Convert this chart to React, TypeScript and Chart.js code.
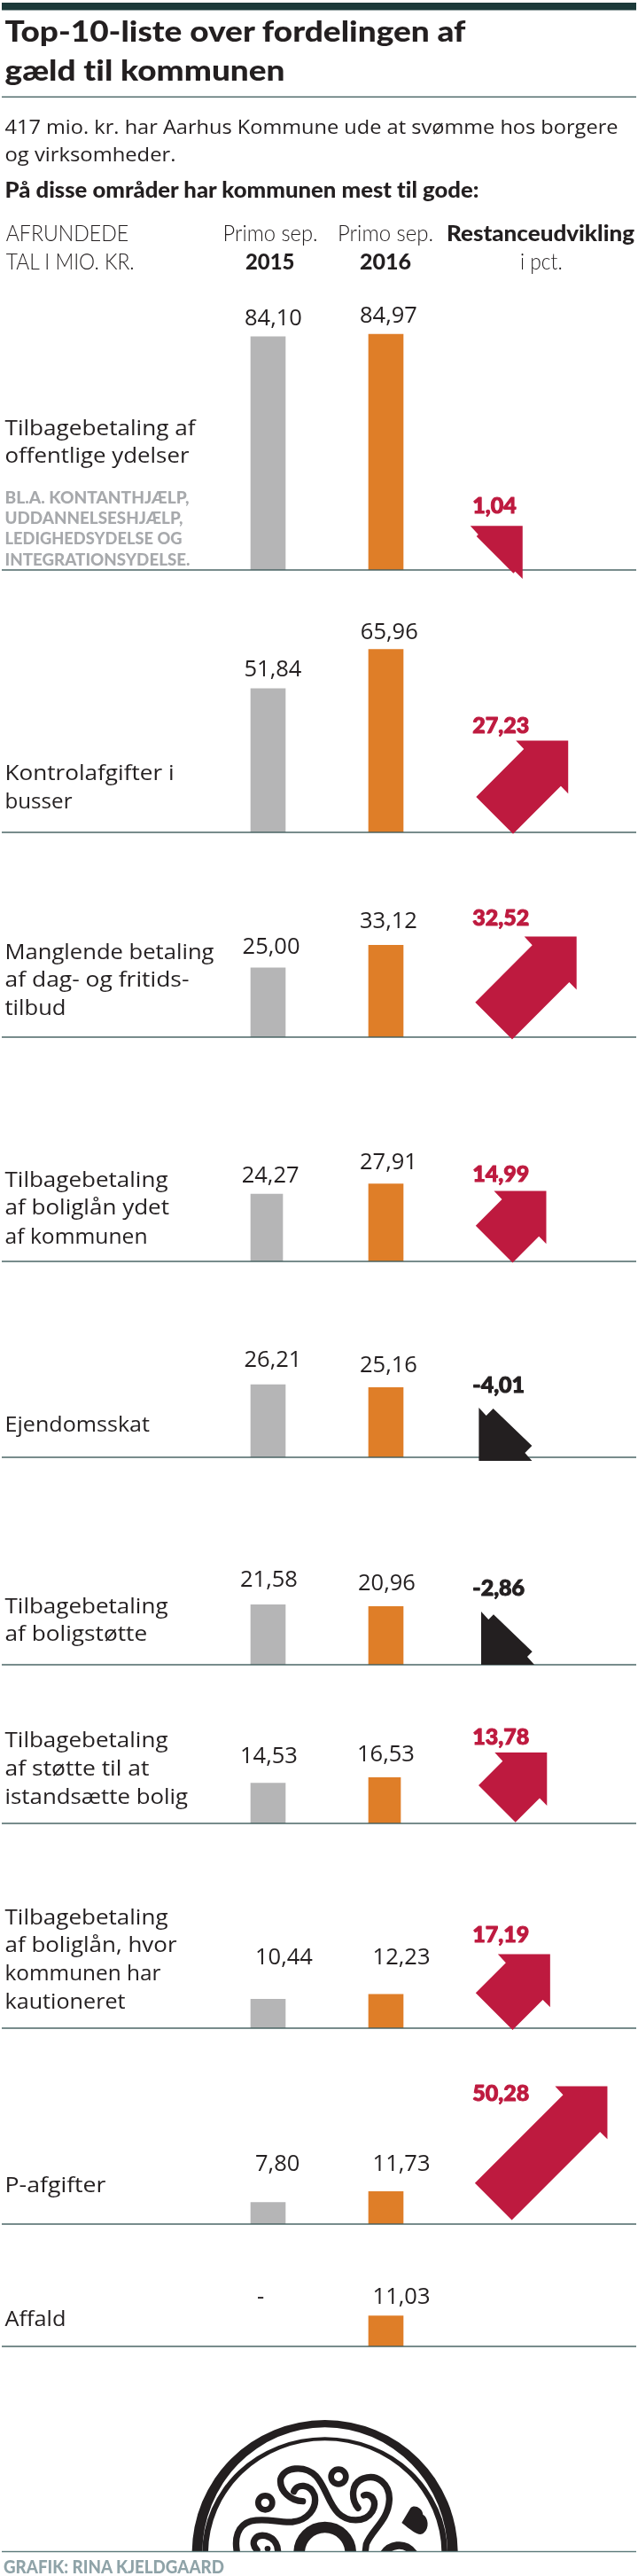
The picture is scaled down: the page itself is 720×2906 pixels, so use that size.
import React, { useEffect, useRef } from "react";
import { Chart, registerables } from "chart.js";

Chart.register(...registerables);

// ---------- data ----------
const categories = ["Primo sep. 2015", "Primo sep. 2016", "Restanceudvikling i pct."];
const areas = [
  "Tilbagebetaling af offentlige ydelser",
  "Kontrolafgifter i busser",
  "Manglende betaling af dag- og fritidstilbud",
  "Tilbagebetaling af boliglån ydet af kommunen",
  "Ejendomsskat",
  "Tilbagebetaling af boligstøtte",
  "Tilbagebetaling af støtte til at istandsætte bolig",
  "Tilbagebetaling af boliglån, hvor kommunen har kautioneret",
  "P-afgifter",
  "Affald",
];
const values2015: (number | null)[] = [84.1, 51.84, 25.0, 24.27, 26.21, 21.58, 14.53, 10.44, 7.8, null];
const values2016: number[] = [84.97, 65.96, 33.12, 27.91, 25.16, 20.96, 16.53, 12.23, 11.73, 11.03];
const changePct: (number | null)[] = [1.04, 27.23, 32.52, 14.99, -4.01, -2.86, 13.78, 17.19, 50.28, null];

// ---------- layout ----------
const W = 720;
const H = 2906;
const PX_PER_MIO = 3.13;
const PX_PER_PCT = 1.98;
const BELOW = 24;
const rowBase = [643, 939.3, 1170, 1423, 1644, 1878, 2057, 2288, 2509, 2647];
const rowTop = [320, 643, 939, 1170, 1423, 1644, 1878, 2057, 2288, 2509];
const barW15 = [39, 39, 39, 36, 39, 39, 39, 39, 39, 39];
const barW16 = [39, 39, 39, 39, 39, 39, 36, 39, 39, 39];
const label15: [number, number][] = [[276, 366.7], [275.5, 763], [273.6, 1076], [272.7, 1334], [275.5, 1542], [271, 1790], [271, 1989], [288, 2216], [288, 2449], [290, 2599]];
const label16: [number, number][] = [[406, 364], [406.8, 721], [406, 1047], [406, 1319], [406, 1548], [404, 1794], [403, 1987], [420.6, 2216], [420.6, 2449], [420.6, 2599]];
const labelPct: number[] = [579, 827.3, 1044, 1332.6, 1570.5, 1800, 1968, 2190.6, 2370, 0];
const arrowAnchor: ([number, number] | null)[] = [[579.4, 646.7], [579, 940.7], [578, 1172.4], [578.5, 1424.5], [540.4, 1648], [543, 1878], [581.7, 2055.8], [578.5, 2290], [577.6, 2504.5], null];

const RED = "#be1a3f";
const ORANGE = "#df7e28";
const GRAY = "#b5b5b6";
const INK = "#231f20";
const RULE = "#3f5c5c";

const fmt = (v: number) => v.toFixed(2).replace(".", ",");

// ---------- static text lines: text, x, baseline, size, weight, family, colour, width ----------
type L = [string, number, number, number, number, string, string, number];
const OS = '"Open Sans"';
const LA = "Lato";
const lines: L[] = [
  ["Top-10-liste over fordelingen af", 5.5, 47.3, 33, 900, LA, INK, 520],
  ["gæld til kommunen", 5.5, 90.7, 33, 900, LA, INK, 316],
  ["417 mio. kr. har Aarhus Kommune ude at svømme hos borgere", 5.5, 151, 22.5, 400, OS, INK, 692],
  ["og virksomheder.", 5.5, 182, 22.5, 400, OS, INK, 193],
  ["På disse områder har kommunen mest til gode:", 5.5, 223, 24, 900, LA, INK, 535],
  ["AFRUNDEDE", 6.7, 272.3, 25.5, 300, LA, INK, 138.5],
  ["TAL I MIO. KR.", 6.7, 304, 25.5, 300, LA, INK, 145],
  ["Primo sep.", 251.6, 272.3, 25.5, 300, LA, INK, 107],
  ["Primo sep.", 381, 272.3, 25.5, 300, LA, INK, 108],
  ["2015", 277, 304, 25.5, 900, LA, INK, 55.5],
  ["2016", 406, 304, 25.5, 900, LA, INK, 58],
  ["Restanceudvikling", 504, 272.3, 25.5, 900, LA, INK, 212],
  ["i pct.", 587, 304, 25.5, 300, LA, INK, 47.7],
  ["Tilbagebetaling af", 5.5, 491, 24, 400, OS, INK, 215],
  ["offentlige ydelser", 5.5, 522, 24, 400, OS, INK, 208],
  ["BL.A. KONTANTHJÆLP,", 5.5, 568, 18.5, 900, LA, "#a7a9ac", 208],
  ["UDDANNELSESHJÆLP,", 5.5, 590.6, 18.5, 900, LA, "#a7a9ac", 201],
  ["LEDIGHEDSYDELSE OG", 5.5, 614, 18.5, 900, LA, "#a7a9ac", 200],
  ["INTEGRATIONSYDELSE.", 5.5, 637.5, 18.5, 900, LA, "#a7a9ac", 209],
  ["Kontrolafgifter i", 5.5, 879.6, 24, 400, OS, INK, 191],
  ["busser", 5.5, 911.7, 24, 400, OS, INK, 76],
  ["Manglende betaling", 5.5, 1081.6, 24, 400, OS, INK, 236],
  ["af dag- og fritids-", 5.5, 1112.8, 24, 400, OS, INK, 208],
  ["tilbud", 5.5, 1145, 24, 400, OS, INK, 69],
  ["Tilbagebetaling", 5.5, 1338.8, 24, 400, OS, INK, 184],
  ["af boliglån ydet", 5.5, 1370.4, 24, 400, OS, INK, 185.5],
  ["af kommunen", 5.5, 1402.6, 24, 400, OS, INK, 161],
  ["Ejendomsskat", 5.5, 1615, 24, 400, OS, INK, 163.5],
  ["Tilbagebetaling", 5.5, 1819.6, 24, 400, OS, INK, 184],
  ["af boligstøtte", 5.5, 1851, 24, 400, OS, INK, 160.7],
  ["Tilbagebetaling", 5.5, 1971, 24, 400, OS, INK, 184],
  ["af støtte til at", 5.5, 2003, 24, 400, OS, INK, 163],
  ["istandsætte bolig", 5.5, 2035, 24, 400, OS, INK, 206.6],
  ["Tilbagebetaling", 5.5, 2170.5, 24, 400, OS, INK, 184],
  ["af boliglån, hvor", 5.5, 2202, 24, 400, OS, INK, 194],
  ["kommunen har", 5.5, 2234, 24, 400, OS, INK, 176],
  ["kautioneret", 5.5, 2266, 24, 400, OS, INK, 136],
  ["P-afgifter", 5.5, 2473, 24, 400, OS, INK, 114],
  ["Affald", 5.5, 2624, 24, 400, OS, INK, 69],
  ["GRAFIK: RINA KJELDGAARD", 4, 2902.7, 21, 900, LA, "#8fa3a8", 249],
];

// ---------- row chart ----------
function RowChart({ index }: { index: number }) {
  const ref = useRef<HTMLCanvasElement | null>(null);
  const top = rowTop[index];
  const height = Math.round(rowBase[index] + BELOW - top);
  useEffect(() => {
    const plotH = height - BELOW;
    const rowPlugin = {
      id: "rowMarks",
      afterDatasetsUpdate(chart: any) {
        [barW15[index], barW16[index]].forEach((w, d) => {
          const el = chart.getDatasetMeta(d).data[d];
          if (el) el.x -= (39 - w) / 2;
        });
      },
      afterDatasetsDraw(chart: any) {
        const { ctx } = chart;
        const y0 = chart.scales.y.getPixelForValue(0);
        ctx.save();
        ctx.fillStyle = RULE;
        ctx.fillRect(2, y0 - 0.7, 716, 1.4);
        const pct = chart.data.datasets[2].data[2];
        const anchor = arrowAnchor[index];
        if (pct !== null && anchor) {
          const sc = chart.scales.yPct;
          const s = sc.getPixelForValue(0) - sc.getPixelForValue(Math.abs(pct));
          const ax = anchor[0];
          const ay = anchor[1] - top;
          let p: [number, number][];
          if (pct > 0) {
            const lx = ax - 41.7, ly = ay - 41.7;
            const n1: [number, number] = [lx + s, ly - s];
            const n2: [number, number] = [ax + s, ay - s];
            const h1: [number, number] = [n1[0] - 9, n1[1] - 9.7];
            const h2: [number, number] = [n2[0] + 8.3, n2[1] + 8.4];
            p = [h1, [h2[0], h1[1]], h2, n2, [ax, ay], [lx, ly], n1];
          } else {
            const n1: [number, number] = [ax + 8.3, ay - 51];
            const n2: [number, number] = [ax + 52, ay - 9];
            p = [[ax, ay - 60], n1, [n1[0] + s, n1[1] - s], [n2[0] + s, n2[1] - s], n2, [ax + 60, ay], [ax, ay]];
          }
          const col = pct > 0 ? RED : INK;
          ctx.fillStyle = col;
          ctx.beginPath();
          p.forEach((q, i) => (i ? ctx.lineTo(q[0], q[1]) : ctx.moveTo(q[0], q[1])));
          ctx.closePath();
          ctx.fill();
          ctx.font = "900 25px Lato";
          ctx.textBaseline = "alphabetic";
          ctx.textAlign = "left";
          ctx.strokeStyle = col;
          ctx.lineWidth = 1;
          ctx.lineJoin = "round";
          ctx.strokeText(fmt(pct), 533.3, labelPct[index] - top);
          ctx.fillText(fmt(pct), 533.3, labelPct[index] - top);
        }
        ctx.font = '25.5px "Open Sans"';
        ctx.fillStyle = INK;
        ctx.textBaseline = "alphabetic";
        ctx.textAlign = "left";
        const v15 = chart.data.datasets[0].data[0];
        const v16 = chart.data.datasets[1].data[1];
        ctx.fillText(v15 === null ? "-" : fmt(v15), label15[index][0], label15[index][1] - top);
        ctx.fillText(fmt(v16), label16[index][0], label16[index][1] - top);
        ctx.restore();
      },
    };
    const chart = new Chart(ref.current as HTMLCanvasElement, {
      type: "bar",
      data: {
        labels: categories,
        datasets: [
          { label: categories[0], data: [values2015[index], null, null], backgroundColor: GRAY, barThickness: barW15[index] },
          { label: categories[1], data: [null, values2016[index], null], backgroundColor: ORANGE, barThickness: barW16[index] },
          { label: categories[2], data: [null, null, changePct[index]], backgroundColor: "rgba(0,0,0,0)", yAxisID: "yPct", barThickness: 39 },
        ],
      } as any,
      options: {
        animation: false,
        responsive: false,
        devicePixelRatio: 1,
        datasets: { bar: { grouped: false } },
        layout: { padding: { left: 236, right: 85, top: 0, bottom: BELOW } },
        plugins: { legend: { display: false }, tooltip: { enabled: false }, title: { display: false, text: areas[index] } },
        scales: {
          x: { display: false },
          y: { display: false, min: 0, max: plotH / PX_PER_MIO },
          yPct: { display: false, min: 0, max: plotH / PX_PER_PCT },
        },
      } as any,
      plugins: [rowPlugin],
    });
    return () => chart.destroy();
  }, [index, top, height]);
  return (
    <canvas
      ref={ref}
      width={W}
      height={height}
      style={{ position: "absolute", left: 0, top, width: W, height, display: "block" }}
    />
  );
}

function Logo() {
  const sw = { fill: "none", stroke: INK, strokeLinecap: "round" as const };
  return (
    <svg x={200} y={2720} width={330} height={158} viewBox="0 0 990 474">
      <path fillRule="evenodd" fill={INK} d="M50 480a450 450 0 0 1 900 0zM85 480a415 425 0 0 1 830 0z" />
      <path fillRule="evenodd" fill={INK} d="M85 480a415 392 0 0 1 830 0zM105 480a395 380 0 0 1 790 0z" />
      <g {...sw} strokeWidth={22}>
        <path d="M425 305C385 305 345 270 350 230C360 190 430 180 470 220C505 260 510 310 545 345C575 375 635 380 660 340C680 305 655 275 632 285" />
        <path d="M612 328C590 300 585 245 630 228C680 210 720 250 718 300C715 370 660 400 640 450L635 490" />
        <path d="M395 272C405 245 450 245 465 285C475 330 440 370 390 375C340 378 300 360 250 372C205 385 190 430 205 490" />
        <path d="M270 470C245 445 265 415 300 422C330 430 345 455 340 490" />
        <path d="M695 490C715 450 770 440 800 480" strokeWidth={26} />
      </g>
      <circle cx={298} cy={310} r={24} fill="none" stroke={INK} strokeWidth={20} />
      <circle cx={546} cy={222} r={25} fill="none" stroke={INK} strokeWidth={20} />
      <circle cx={500} cy={480} r={87} fill="none" stroke={INK} strokeWidth={38} />
      <circle cx={306} cy={466} r={10} fill={INK} />
      <path fill={INK} d="M760 378L790 328C800 315 830 325 832 350C850 360 855 395 835 412C820 425 800 410 760 378Z" />
    </svg>
  );
}

export default function App() {
  return (
    <div style={{ position: "absolute", left: 0, top: 0, width: W, height: H, overflow: "hidden", background: "#fff" }}>
      {rowBase.map((_, i) => (
        <RowChart key={i} index={i} />
      ))}
      <svg width={W} height={H} viewBox={`0 0 ${W} ${H}`} style={{ position: "absolute", left: 0, top: 0, pointerEvents: "none", fontVariantLigatures: "none" }}>
        <rect x={2} y={3} width={716} height={8.5} fill="#1c3a3a" />
        <rect x={2} y={108.7} width={716} height={1.3} fill={RULE} />
        <Logo />
        <rect x={2} y={2877.8} width={716} height={1.4} fill="#5c7a7a" />
        {lines.map(([t, x, y, size, weight, fam, col, w], i) => (
          <text
            key={i}
            x={x}
            y={y}
            fontFamily={fam}
            fontSize={size}
            fontWeight={weight}
            fill={col}
            textLength={w}
            lengthAdjust="spacingAndGlyphs"
          >
            {t}
          </text>
        ))}
      </svg>
    </div>
  );
}
